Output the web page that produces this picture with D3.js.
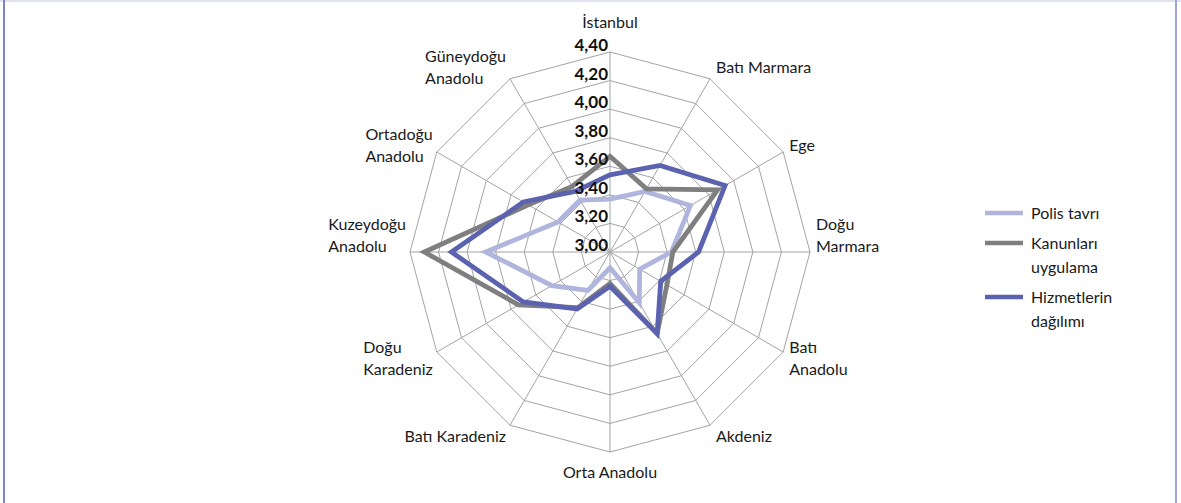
<!DOCTYPE html>
<html>
<head>
<meta charset="utf-8">
<script src="https://d3js.org/d3.v7.min.js"></script>
<style>
    html, body { margin: 0; padding: 0; background: #fff; }
    svg { display: block; font-family: 'Lato', sans-serif; }
    .grid { fill: none; stroke: #a3a3a3; stroke-width: 1px; }
    .cat { font-size: 16px; fill: #1a1a1a; }
    .tick { font-size: 17px; font-weight: bold; fill: #111; }
    .legend text { font-size: 16px; fill: #1a1a1a; }
</style>
</head>
<body>
<svg id="chart" width="1181" height="503"></svg>
<script>
    // regions, clockwise from the top
    var regions = ["İstanbul", "Batı Marmara", "Ege", "Doğu\nMarmara", "Batı\nAnadolu", "Akdeniz",
        "Orta Anadolu", "Batı Karadeniz", "Doğu\nKaradeniz", "Kuzeydoğu\nAnadolu", "Ortadoğu\nAnadolu", "Güneydoğu\nAnadolu"];

    var polisTavri = [3.37, 3.49, 3.65, 3.43, 3.24, 3.41, 3.11, 3.31, 3.47, 3.87, 3.42, 3.42];
    var kanunlari = [3.67, 3.51, 3.87, 3.44, 3.46, 3.66, 3.22, 3.45, 3.74, 4.30, 3.66, 3.53];
    var hizmetler = [3.54, 3.70, 3.93, 3.62, 3.41, 3.66, 3.24, 3.46, 3.70, 4.11, 3.70, 3.49];

    var seriesNames = ["Polis tavrı", "Kanunları\nuygulama", "Hizmetlerin\ndağılımı"];
    var seriesColors = ["#b0b5dd", "#7f7f7f", "#5b62b0"];
    var tickValues = [3.0, 3.2, 3.4, 3.6, 3.8, 4.0, 4.2, 4.4];

    var svg = d3.select("#chart");
    var cx = 610, cy = 252, R = 200;

    // frame
    svg.append("line").attr("x1", 0).attr("x2", 1181).attr("y1", 1).attr("y2", 1)
        .style("stroke", "#dfe1f2").style("stroke-width", 2);
    svg.append("line").attr("x1", 4).attr("x2", 4).attr("y1", 0).attr("y2", 503)
        .style("stroke", "#7d83c9").style("stroke-width", 2);
    svg.append("line").attr("x1", 1176).attr("x2", 1176).attr("y1", 0).attr("y2", 503)
        .style("stroke", "#a1a5d9").style("stroke-width", 2);

    var r = d3.scaleLinear().domain([3.0, 4.4]).range([0, R]);
    var angle = d3.scalePoint().domain(d3.range(regions.length)).range([0, 2 * Math.PI * (regions.length - 1) / regions.length]);

    function pt(i, v) {
        var a = angle(i);
        return [cx + r(v) * Math.sin(a), cy - r(v) * Math.cos(a)];
    }

    var g = svg.append("g");

    // rings
    tickValues.slice(1).forEach(function (t) {
        g.append("path").attr("class", "grid")
            .attr("d", d3.line()(regions.map(function (d, i) { return pt(i, t); })) + "Z");
    });
    // spokes
    regions.forEach(function (d, i) {
        var p = pt(i, 4.4);
        g.append("line").attr("class", "grid")
            .attr("x1", cx).attr("y1", cy).attr("x2", p[0]).attr("y2", p[1]);
    });

    // series
    var allSeries = [polisTavri, kanunlari, hizmetler];
    allSeries.forEach(function (vals, s) {
        g.append("path")
            .attr("d", d3.line()(vals.map(function (v, i) { return pt(i, v); })) + "Z")
            .style("fill", "none").style("stroke", seriesColors[s])
            .style("stroke-width", 4.8).style("stroke-linejoin", "miter");
    });

    // tick labels
    tickValues.forEach(function (t) {
        g.append("text").attr("class", "tick")
            .attr("x", cx - 2).attr("y", cy - r(t) - 1)
            .attr("text-anchor", "end")
            .text(t.toFixed(2).replace(".", ","));
    });

    // category labels
    var lineH = 22;
    regions.forEach(function (name, i) {
        var a = angle(i), s = Math.sin(a), c = Math.cos(a);
        var lines = name.split("\n");
        var vx = cx + R * s, vy = cy - R * c;
        var yc;
        if (Math.abs(s) < 0.01) yc = vy - 25 * c - 5;
        else yc = vy - 13 * c + (lines.length > 1 && Math.abs(c) < 0.01 ? -17 : 0);
        var t = g.append("text").attr("class", "cat");
        lines.forEach(function (ln, k) {
            t.append("tspan").attr("dy", "0.35em")
                .attr("y", yc + (k - (lines.length - 1) / 2) * lineH)
                .text(ln);
        });
        if (Math.abs(s) < 0.01) {
            t.attr("text-anchor", "middle").selectAll("tspan").attr("x", vx);
        } else if (s > 0) {
            t.selectAll("tspan").attr("x", vx + 6);
        } else {
            var w = d3.max(t.selectAll("tspan").nodes(), function (n) { return n.getComputedTextLength(); });
            t.selectAll("tspan").attr("x", vx - 4 - w);
        }
    });

    // legend
    var legendY = [213, 243, 297];
    var leg = svg.append("g").attr("class", "legend");
    seriesNames.forEach(function (name, s) {
        leg.append("line").attr("x1", 985).attr("x2", 1023)
            .attr("y1", legendY[s]).attr("y2", legendY[s])
            .style("stroke", seriesColors[s]).style("stroke-width", 4.5);
        var t = leg.append("text");
        name.split("\n").forEach(function (ln, k) {
            t.append("tspan").attr("x", 1031).attr("y", legendY[s] + k * 24).attr("dy", "0.35em").text(ln);
        });
    });
</script>
</body>
</html>
